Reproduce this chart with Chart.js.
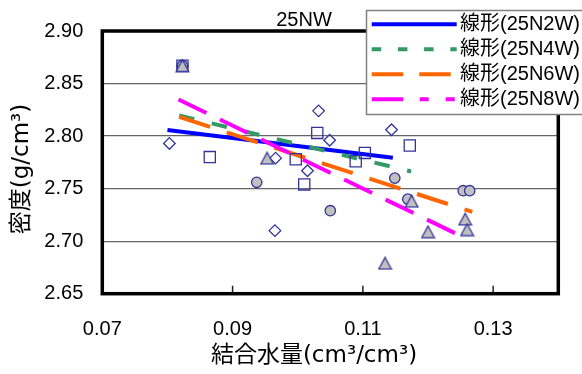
<!DOCTYPE html>
<html>
<head>
<meta charset="utf-8">
<script src="https://cdn.jsdelivr.net/npm/chart.js@4.4.1/dist/chart.umd.min.js"></script>
<style>
  html, body { margin: 0; padding: 0; background: #fff; }
  canvas { display: block; }
</style>
</head>
<body>
<canvas id="c" width="582" height="374"></canvas>
<script>
// ---- data ----
const seriesNames = ['25N2W', '25N4W', '25N6W', '25N8W'];

// bound water content (cm3/cm3) and density (g/cm3), one pair of arrays per series
const water2W   = [0.0823, 0.0803, 0.0966, 0.1015, 0.0965, 0.1032, 0.1049, 0.1144];
const density2W = [2.867, 2.793, 2.779, 2.767, 2.710, 2.824, 2.796, 2.806];

const water4W   = [0.0823, 0.0865, 0.0997, 0.1010, 0.1030, 0.1089, 0.1103, 0.1172];
const density4W = [2.867, 2.780, 2.778, 2.754, 2.803, 2.776, 2.784, 2.791];

const water6W   = [0.0823, 0.0937, 0.1050, 0.1149, 0.1169, 0.1254, 0.1264];
const density6W = [2.867, 2.756, 2.729, 2.760, 2.740, 2.748, 2.748];

const water8W   = [0.0823, 0.0953, 0.1175, 0.1200, 0.1257, 0.1260, 0.1134];
const density8W = [2.867, 2.779, 2.738, 2.709, 2.721, 2.711, 2.679];

// linear trend lines: [start, end] in water content and density
const fitWater2W   = [0.0800, 0.1146];
const fitDensity2W = [2.8058, 2.7794];
const fitWater4W   = [0.0818, 0.1174];
const fitDensity4W = [2.8196, 2.7663];
const fitWater6W   = [0.0818, 0.1268];
const fitDensity6W = [2.8183, 2.7278];
const fitWater8W   = [0.0817, 0.1260];
const fitDensity8W = [2.8348, 2.7021];

const xTickValues = [0.07, 0.09, 0.11, 0.13];
const yTickValues = [2.65, 2.70, 2.75, 2.80, 2.85, 2.90];

// ---- layout and style ----
const PLOT = { left: 102.3, top: 31, right: 558.3, bottom: 293.7 };
const W = 582, H = 374;
const LATIN = "'Liberation Sans', Arial, 'Noto Sans CJK JP', sans-serif";
const TITLE_FONT = "'DejaVu Sans', 'Noto Sans CJK JP', sans-serif";
const MARK_EDGE = '#333399';
const MARK_FILL = '#c0c0c0';

const pairs = (xs, ys) => xs.map((x, i) => ({ x: x, y: ys[i] }));

// grey triangle with navy outline, centred on its bounding box
function triangleMarker() {
  const c = document.createElement('canvas');
  c.width = 15; c.height = 14;
  const g = c.getContext('2d');
  g.beginPath();
  g.moveTo(7.5, 1.2);
  g.lineTo(13.8, 12.8);
  g.lineTo(1.2, 12.8);
  g.closePath();
  g.fillStyle = MARK_FILL;
  g.fill();
  g.lineWidth = 1.3;
  g.strokeStyle = MARK_EDGE;
  g.stroke();
  return c;
}

function markerSet(label, xs, ys, style, radius, fill, order) {
  return {
    type: 'scatter',
    label: label,
    data: pairs(xs, ys),
    pointStyle: style,
    pointRadius: radius,
    pointHoverRadius: radius,
    pointBorderWidth: 1.3,
    pointBorderColor: MARK_EDGE,
    pointBackgroundColor: fill,
    showLine: false,
    order: order
  };
}

function trendSet(name, xs, ys, color, dash, legendDash, order) {
  return {
    type: 'line',
    label: '線形(' + name + ')',
    data: pairs(xs, ys),
    borderColor: color,
    borderWidth: 4,
    borderDash: dash,
    borderCapStyle: 'butt',
    pointRadius: 0,
    pointHoverRadius: 0,
    fill: false,
    tension: 0,
    order: order,
    legendDash: legendDash
  };
}

const datasets = [
  markerSet(seriesNames[3], water8W, density8W, triangleMarker(), 7, MARK_FILL, 0),
  markerSet(seriesNames[2], water6W, density6W, 'circle', 5.2, MARK_FILL, 1),
  markerSet(seriesNames[1], water4W, density4W, 'rect', 7.9, 'rgba(255,255,255,0)', 2),
  markerSet(seriesNames[0], water2W, density2W, 'rectRot', 5.8, 'rgba(255,255,255,0)', 3),
  trendSet(seriesNames[3], fitWater8W, fitDensity8W, '#ff00ff', [31, 15], [31.5, 16.5, 9, 17, 9, 17], 4),
  trendSet(seriesNames[2], fitWater6W, fitDensity6W, '#ff6600', [32.5, 17.5], [31.5, 16], 5),
  trendSet(seriesNames[1], fitWater4W, fitDensity4W, '#339966', [15.5, 18], [9.5, 16.7], 6),
  trendSet(seriesNames[0], fitWater2W, fitDensity2W, '#0000ff', [], [], 7)
];

// plot frame and inward tick marks on the horizontal axis
const framePlugin = {
  id: 'frame',
  beforeDatasetsDraw(chart) {
    const { ctx, chartArea: a, scales: { x } } = chart;
    ctx.save();
    ctx.strokeStyle = '#222';
    ctx.lineWidth = 1.5;
    xTickValues.forEach(v => {
      if (v <= x.min || v >= x.max) return;
      const px = x.getPixelForValue(v);
      ctx.beginPath();
      ctx.moveTo(px, a.bottom);
      ctx.lineTo(px, a.bottom - 8);
      ctx.stroke();
    });
    ctx.lineWidth = 3.5;
    ctx.strokeStyle = '#000';
    ctx.strokeRect(a.left, a.top, a.right - a.left, a.bottom - a.top);
    ctx.restore();
  }
};

// chart title, axis titles and the boxed legend of trend lines
const textPlugin = {
  id: 'texts',
  afterDraw(chart) {
    const ctx = chart.ctx;
    ctx.save();
    ctx.fillStyle = '#000';

    ctx.font = '20px ' + LATIN;
    ctx.textAlign = 'center';
    ctx.textBaseline = 'alphabetic';
    ctx.fillText('25NW', 304, 26);

    ctx.font = '23px ' + TITLE_FONT;
    ctx.textBaseline = 'middle';
    ctx.fillText('結合水量(cm³/cm³)', 314, 356);

    ctx.save();
    ctx.translate(22, 169);
    ctx.rotate(-Math.PI / 2);
    ctx.fillText('密度(g/cm³)', 0, 0);
    ctx.restore();

    // legend
    ctx.fillStyle = '#fff';
    ctx.fillRect(366, 10, 240, 105);
    ctx.strokeStyle = '#808080';
    ctx.lineWidth = 1.5;
    ctx.strokeRect(366.5, 10.5, 240, 104);

    const trends = chart.data.datasets.filter(d => d.legendDash).slice().reverse();
    ctx.font = '20px ' + LATIN;
    ctx.textAlign = 'left';
    ctx.textBaseline = 'middle';
    trends.forEach((d, i) => {
      const y = 24.2 + i * 25;
      ctx.strokeStyle = d.borderColor;
      ctx.lineWidth = 4;
      ctx.lineCap = 'butt';
      ctx.setLineDash(d.legendDash);
      ctx.beginPath();
      ctx.moveTo(371.7, y);
      ctx.lineTo(456.7, y);
      ctx.stroke();
      ctx.setLineDash([]);
      ctx.fillStyle = '#000';
      ctx.fillText(d.label, 460, y);
    });
    ctx.restore();
  }
};

new Chart(document.getElementById('c'), {
  type: 'scatter',
  data: { datasets: datasets },
  options: {
    responsive: false,
    animation: false,
    devicePixelRatio: 1,
    events: [],
    layout: { padding: { left: 0, top: PLOT.top, right: W - PLOT.right, bottom: 0 } },
    plugins: { legend: { display: false }, tooltip: { enabled: false }, title: { display: false } },
    scales: {
      x: {
        type: 'linear',
        min: 0.07,
        max: 0.14,
        afterBuildTicks: s => { s.ticks = xTickValues.map(v => ({ value: v })); },
        afterFit: s => { s.height = H - PLOT.bottom; },
        grid: { display: false, drawTicks: false },
        border: { display: false },
        ticks: {
          color: '#000',
          padding: 24,
          maxRotation: 0,
          autoSkip: false,
          font: { family: LATIN, size: 20 },
          callback: v => Number(v).toFixed(2)
        }
      },
      y: {
        type: 'linear',
        min: 2.65,
        max: 2.90,
        afterBuildTicks: s => { s.ticks = yTickValues.map(v => ({ value: v })); },
        afterFit: s => { s.width = PLOT.left; },
        grid: { color: '#666', lineWidth: 1.3, drawTicks: false },
        border: { display: false },
        ticks: {
          color: '#000',
          padding: 19,
          autoSkip: false,
          font: { family: LATIN, size: 20 },
          callback: v => Number(v).toFixed(2)
        }
      }
    }
  },
  plugins: [framePlugin, textPlugin]
});
</script>
</body>
</html>
